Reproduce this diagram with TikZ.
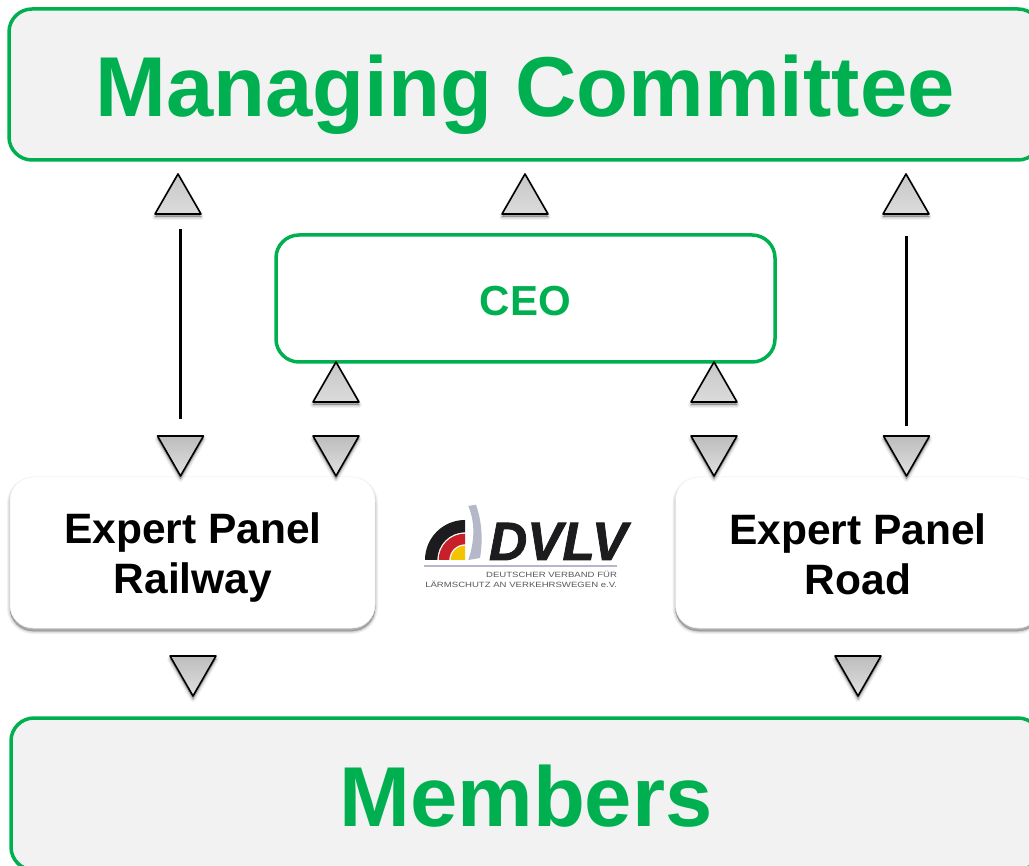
\documentclass[tikz,border=0pt]{standalone}
\usepackage{fontspec}
\setmainfont{Liberation Sans}
\newfontface\dvlvfont[FakeBold=1.5,FakeStretch=0.98]{Liberation Sans Bold Italic}
\newfontface\subfont[FakeStretch=1.26]{Liberation Sans}
\usetikzlibrary{shapes.geometric}
\definecolor{grn}{HTML}{00B050}
\definecolor{panel}{HTML}{F2F2F2}
\definecolor{bladegray}{HTML}{B4B8C8}
\definecolor{logoblack}{HTML}{1C1C1E}
\definecolor{logored}{HTML}{C8202A}
\definecolor{logoyellow}{HTML}{F5C400}
\tikzset{
  softlayer/.style={preaction={fill=black,fill opacity=.05,draw=black,draw opacity=.05,line width=#1,transform canvas={yshift=-3pt}}},
  softshadow/.style={softlayer=6pt,softlayer=4pt,softlayer=2.5pt,softlayer=1pt,softlayer=0pt},
  greenbox/.style={draw=grn,line width=3.5pt,rounded corners=23pt,inner sep=0pt,outer sep=0pt,font=\bfseries,text=grn},
  big/.style={greenbox,fill=panel,font=\bfseries\fontsize{85}{85}\selectfont,text height=65pt,text depth=0pt},
  ceobox/.style={greenbox,fill=white,font=\bfseries\fontsize{42}{42}\selectfont,text height=34pt,text depth=0pt},
  panelbox/.style={fill=white,draw=black!6,line width=.5pt,rounded corners=23pt,inner sep=0pt,outer sep=0pt,softshadow},
  paneltext/.style={align=center,inner sep=0pt,outer sep=0pt,font=\bfseries\fontsize{42.5}{50}\selectfont,text=black},
  tribase/.style={isosceles triangle,isosceles triangle stretches,minimum height=40pt,minimum width=46pt,inner sep=0pt,outer sep=0pt,
     draw=black,line width=1.6pt,line join=round,softshadow,top color=black!22,bottom color=black!14,anchor=apex},
  triup/.style={tribase,shape border rotate=90},
  tridown/.style={tribase,shape border rotate=270,top color=black!26,bottom color=black!12},
  stem/.style={draw=black,line width=2.6pt},
  logosmall/.style={inner sep=0pt,outer sep=0pt,text=black!65,font=\subfont\fontsize{7.6}{7.6}\selectfont,anchor=base east}
}
\newcommand{\logoband}[3]{%
  \fill[#3] (465-#1,560) .. controls (465-#1,560-.5523*#1) and (465-.5523*#1,560-#1) .. (465,560-#1)
    -- (465,560-#2) .. controls (465-.5523*#2,560-#2) and (465-#2,560-.5523*#2) .. (465-#2,560) -- cycle;}
\begin{document}
\begin{tikzpicture}[x=1pt,y=-1pt]
\useasboundingbox (0,0) rectangle (1029,866);
\fill[white] (0,0) rectangle (1029,866);
% main boxes
\node[big,minimum width=1032pt,minimum height=151pt] (mc) at (525,84.5) {Managing Committee};
\node[big,minimum width=1030pt,minimum height=152pt] (mem) at (526,794) {Members};
\node[ceobox,minimum width=499pt,minimum height=127pt] (ceo) at (525.5,298.5) {CEO};
\node[panelbox,minimum width=365pt,minimum height=151pt] (rail) at (192.5,552.5) {};
\node[panelbox,minimum width=365pt,minimum height=151pt] (road) at (858,552.5) {};
\node[paneltext,yshift=-5pt,xshift=.5pt] (railtext) at (rail.center) {Expert Panel\\Railway};
\node[paneltext,yshift=-2pt] (roadtext) at (road.center) {Expert Panel\\Road};
% triangles
\node[triup] (u1) at (178,174) {};
\node[triup] (u2) at (525,174) {};
\node[triup] (u3) at (906,174) {};
\node[triup] (u4) at (336,362) {};
\node[triup] (u5) at (714,362) {};
\node[tridown] (d1) at (180.5,476) {};
\node[tridown] (d2) at (336,476) {};
\node[tridown] (d3) at (714,476) {};
\node[tridown] (d4) at (906.5,476) {};
\node[tridown] (d5) at (193,696) {};
\node[tridown] (d6) at (858,696) {};
% connectors
\draw[stem,shorten <=15pt,shorten >=17pt] (d1.north |- u1.south) -- (d1.north);
\draw[stem,shorten <=22pt,shorten >=10pt] (d4.north |- u3.south) -- (d4.north);
% logo
\logoband{40}{27.7}{logoblack}
\logoband{26.3}{15.7}{logored}
\logoband{14.3}{0}{logoyellow}
\fill[bladegray] (468.3,506) -- (476,504.7) .. controls (482,522) and (483,540) .. (480,558) -- (468.3,560) .. controls (475,540) and (475,522) .. (468.3,506) -- cycle;
\node[inner sep=0pt,outer sep=0pt,anchor=base west,text=logoblack,font=\dvlvfont\fontsize{54}{54}\selectfont] (dvlv) at (489,560) {DVLV};
\coordinate (ruleL) at (424,566);
\coordinate (ruleR) at (617,566);
\draw[bladegray,line width=1.5pt] (ruleL) -- (ruleR);
\node[logosmall] (sub1) at (617,577.5) {DEUTSCHER VERBAND FÜR};
\node[logosmall] (sub2) at (617,587.5) {LÄRMSCHUTZ AN VERKEHRSWEGEN e.V.};
\end{tikzpicture}
\end{document}
